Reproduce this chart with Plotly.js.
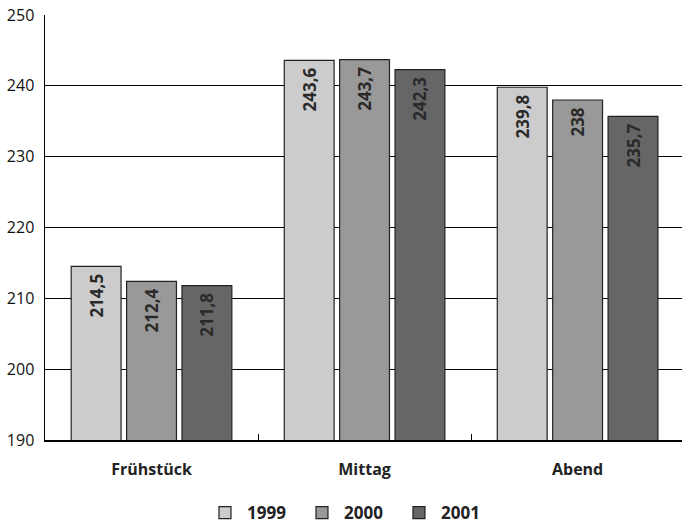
<!DOCTYPE html>
<html>
<head>
<meta charset="utf-8">
<script src="https://cdn.plot.ly/plotly-3.0.1.min.js"></script>
<style>html,body{margin:0;padding:0;background:#fff;}#chart{width:682px;height:531px;}</style>
</head>
<body>
<div id="chart"></div>
<script>
const categories = ["Frühstück", "Mittag", "Abend"];
const seriesNames = ["1999", "2000", "2001"];
const values1999 = [214.5, 243.6, 239.8];
const values2000 = [212.4, 243.7, 238];
const values2001 = [211.8, 242.3, 235.7];
const labels1999 = ["214,5", "243,6", "239,8"];
const labels2000 = ["212,4", "243,7", "238"];
const labels2001 = ["211,8", "242,3", "235,7"];
const colors = ["#cccccc", "#999999", "#666666"];

const allValues = [values1999, values2000, values2001];
const allLabels = [labels1999, labels2000, labels2001];

const traces = seriesNames.map((name, i) => ({
  type: "bar",
  name: name,
  x: categories,
  y: allValues[i],
  text: allLabels[i].map(s => s + "\u00a0"),
  textposition: "inside",
  insidetextanchor: "end",
  constraintext: "none",
  textangle: -90,
  textfont: {family: "Open Sans, sans-serif", size: 17, color: "#2a2a2a", weight: "bold"},
  marker: {color: colors[i], line: {color: "#222222", width: 1.2}},
  hoverinfo: "none"
}));

const layout = {
  width: 682,
  height: 531,
  margin: {l: 45, r: 0, t: 15, b: 86},
  paper_bgcolor: "#ffffff",
  plot_bgcolor: "#ffffff",
  barmode: "group",
  bargap: 0.22,
  bargroupgap: 0.1,
  showlegend: true,
  uniformtext: {mode: false},
  legend: {
    orientation: "h",
    x: 0.248, xanchor: "left",
    y: -0.13, yanchor: "top",
    font: {family: "Open Sans, sans-serif", size: 17, color: "#222222", weight: "bold"},
    itemwidth: 34,
    entrywidth: 48,
    traceorder: "normal"
  },
  xaxis: {
    type: "category",
    range: [-0.5, 2.49],
    tickson: "boundaries",
    ticks: "inside",
    ticklen: 6,
    tickcolor: "#000000",
    showline: true,
    linecolor: "#000000",
    linewidth: 1.5,
    showgrid: false,
    ticklabelstandoff: 14,
    tickfont: {family: "Open Sans, sans-serif", size: 16, color: "#222222", weight: "bold"}
  },
  yaxis: {
    range: [190, 250],
    dtick: 10,
    tick0: 190,
    showgrid: true,
    gridcolor: "#000000",
    gridwidth: 1,
    showline: true,
    linecolor: "#000000",
    linewidth: 1.5,
    ticks: "",
    zeroline: false,
    ticklabelstandoff: 6,
    tickfont: {family: "Open Sans, sans-serif", size: 16, color: "#111111"}
  }
};

Plotly.newPlot("chart", traces, layout, {displayModeBar: false, staticPlot: true});
</script>
</body>
</html>
